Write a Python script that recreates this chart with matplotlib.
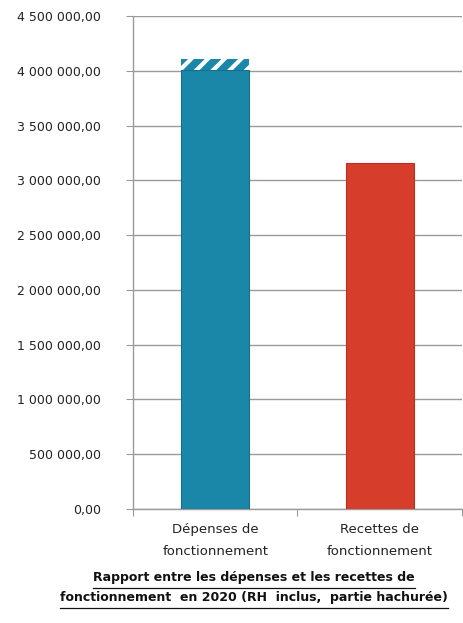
import matplotlib.pyplot as plt
from matplotlib.ticker import FuncFormatter

categories = ["Dépenses de\nfonctionnement", "Recettes de\nfonctionnement"]
base_values = [4010000, 3160000]
rh_part = [100000, 0]  # hatched share (RH)
bar_colors = ["#1b87a8", "#d73d2b"]
edge_colors = ["#136f8c", "#b8301f"]

title_lines = ["Rapport entre les dépenses et les recettes de",
               "fonctionnement  en 2020 (RH  inclus,  partie hachurée)"]


def fr_number(v, pos):
    s = "{:,.2f}".format(v)
    return s.replace(",", " ").replace(".", ",")


plt.rcParams["hatch.linewidth"] = 3.0
plt.rcParams["hatch.color"] = "white"

fig = plt.figure(figsize=(4.63, 6.23), dpi=100)
ax = fig.add_axes([0.287, 0.183, 0.711, 0.791])

x = list(range(len(categories)))
ax.bar(x, base_values, width=0.41, color=bar_colors,
       edgecolor=edge_colors, linewidth=0.8, zorder=3)
ax.bar(x, rh_part, bottom=base_values, width=0.41, color=bar_colors,
       edgecolor="white", hatch="//", linewidth=0, zorder=3)

ax.set_xlim(-0.5, 1.5)
ax.set_ylim(0, 4500000)
ax.set_yticks(range(0, 4500001, 500000))
ax.yaxis.set_major_formatter(FuncFormatter(fr_number))
ax.grid(axis="y", color="#9a9a9a", linewidth=1, zorder=0)

ax.set_xticks([-0.5, 0.5, 1.5])
ax.set_xticklabels([])
ax.set_xticks(x, minor=True)
ax.set_xticklabels(categories, minor=True, fontsize=9.5,
                   color="#222222", linespacing=1.9)
ax.tick_params(axis="x", which="minor", length=0, pad=10)
ax.tick_params(axis="x", which="major", length=5, color="#9a9a9a")
ax.tick_params(axis="y", length=5, color="#9a9a9a", labelsize=9,
               pad=18, labelcolor="#222222")

for side in ["top", "right"]:
    ax.spines[side].set_visible(False)
for side in ["left", "bottom"]:
    ax.spines[side].set_color("#9a9a9a")
    ax.spines[side].set_linewidth(1)

# title, two underlined lines below the chart
fig.canvas.draw()
renderer = fig.canvas.get_renderer()
for i, line in enumerate(title_lines):
    yy = 1 - (578 + 20 * i) / 623
    t = fig.text(0.548, yy, line, ha="center", va="center", fontsize=9.0,
                 fontweight="bold", color="#111111")
    bb = t.get_window_extent(renderer).transformed(fig.transFigure.inverted())
    uy = 1 - (587.5 + 20 * i) / 623
    fig.add_artist(plt.Line2D([bb.x0, bb.x1], [uy, uy],
                              color="#111111", linewidth=0.9))

fig.savefig("out.png", dpi=100)
